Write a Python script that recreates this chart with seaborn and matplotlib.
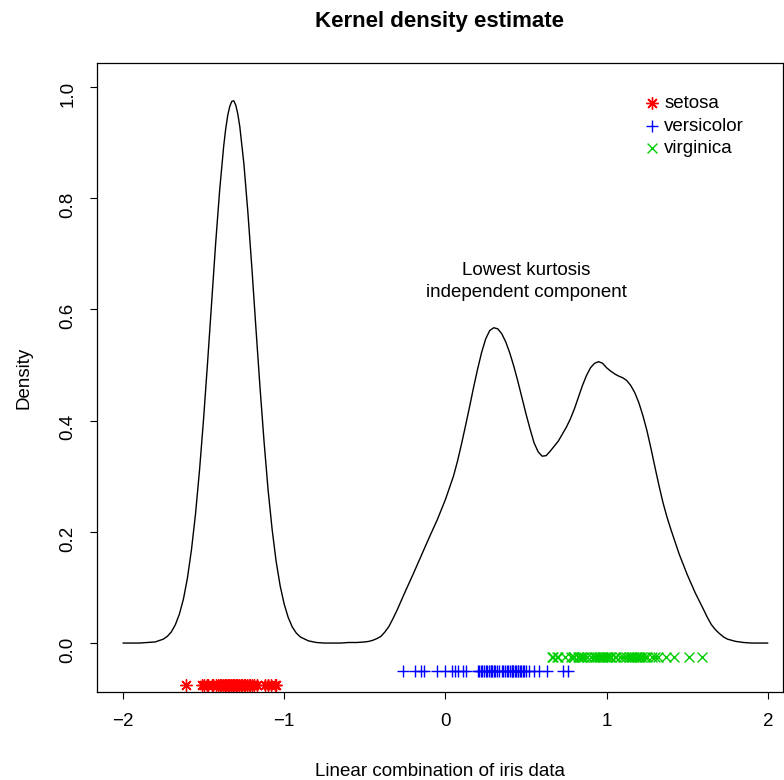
import matplotlib
matplotlib.use("Agg")
import matplotlib.pyplot as plt
import seaborn as sns
import pandas as pd

# ── Data ──────────────────────────────────────────────────────────────────────
# kernel density curve
dens_x = [-2.0, -1.95, -1.9, -1.85, -1.8, -1.75, -1.725, -1.7, -1.675, -1.65,
          -1.625, -1.6, -1.575, -1.55, -1.525, -1.5, -1.475, -1.45, -1.425, -1.4,
          -1.375, -1.3625, -1.35, -1.3375, -1.325, -1.3125, -1.3, -1.2875, -1.275, -1.25,
          -1.225, -1.2, -1.175, -1.15, -1.125, -1.1, -1.075, -1.05, -1.025, -1.0,
          -0.975, -0.95, -0.925, -0.9, -0.85, -0.8, -0.75, -0.7, -0.65, -0.6,
          -0.55, -0.5, -0.475, -0.45, -0.425, -0.4, -0.375, -0.35, -0.325, -0.3,
          -0.25, -0.2, -0.15, -0.1, -0.05, 0.0, 0.05, 0.075, 0.1, 0.125,
          0.15, 0.175, 0.2, 0.225, 0.25, 0.275, 0.3, 0.325, 0.35, 0.375,
          0.4, 0.425, 0.45, 0.475, 0.5, 0.525, 0.55, 0.575, 0.6, 0.625,
          0.65, 0.7, 0.75, 0.775, 0.8, 0.825, 0.85, 0.875, 0.9, 0.925,
          0.95, 0.975, 1.0, 1.025, 1.05, 1.075, 1.1, 1.125, 1.15, 1.175,
          1.2, 1.225, 1.25, 1.275, 1.3, 1.325, 1.35, 1.375, 1.4, 1.45,
          1.5, 1.55, 1.6, 1.625, 1.65, 1.675, 1.7, 1.725, 1.75, 1.8,
          1.85, 1.9, 1.95, 2.0]
dens_y = [0.000, 0.000, 0.000, 0.001, 0.002, 0.007, 0.012, 0.020, 0.033, 0.052,
          0.079, 0.117, 0.168, 0.232, 0.311, 0.403, 0.505, 0.613, 0.719, 0.815,
          0.894, 0.925, 0.949, 0.965, 0.974, 0.975, 0.967, 0.951, 0.928, 0.862,
          0.774, 0.673, 0.565, 0.460, 0.363, 0.276, 0.205, 0.147, 0.103, 0.070,
          0.046, 0.029, 0.018, 0.011, 0.004, 0.001, 0.000, 0.000, 0.000, 0.001,
          0.001, 0.002, 0.003, 0.005, 0.008, 0.012, 0.020, 0.030, 0.044, 0.059,
          0.092, 0.124, 0.157, 0.190, 0.222, 0.258, 0.300, 0.327, 0.358, 0.391,
          0.425, 0.460, 0.493, 0.523, 0.547, 0.562, 0.567, 0.565, 0.556, 0.541,
          0.521, 0.497, 0.470, 0.441, 0.412, 0.385, 0.360, 0.344, 0.336, 0.337,
          0.345, 0.363, 0.388, 0.403, 0.421, 0.442, 0.463, 0.481, 0.495, 0.503,
          0.506, 0.503, 0.495, 0.489, 0.484, 0.480, 0.477, 0.472, 0.463, 0.450,
          0.432, 0.409, 0.382, 0.350, 0.316, 0.283, 0.252, 0.226, 0.203, 0.160,
          0.123, 0.090, 0.061, 0.046, 0.033, 0.024, 0.017, 0.011, 0.007, 0.003,
          0.001, 0.000, 0.000, 0.000]

# projected points per species (rug under the curve)
setosa = [-1.61, -1.51, -1.50, -1.48, -1.47, -1.45, -1.44, -1.42, -1.41, -1.40,
          -1.40, -1.39, -1.38, -1.38, -1.37, -1.37, -1.36, -1.36, -1.35, -1.35,
          -1.34, -1.34, -1.33, -1.33, -1.33, -1.32, -1.32, -1.31, -1.31, -1.30,
          -1.30, -1.29, -1.29, -1.28, -1.28, -1.27, -1.26, -1.25, -1.24, -1.23,
          -1.22, -1.21, -1.20, -1.19, -1.17, -1.12, -1.10, -1.08, -1.06, -1.05]
versicolor = [-0.26, -0.19, -0.15, -0.13, -0.05, 0.00, 0.04, 0.06, 0.08, 0.11,
              0.13, 0.20, 0.21, 0.22, 0.23, 0.24, 0.25, 0.26, 0.27, 0.28,
              0.28, 0.29, 0.30, 0.31, 0.32, 0.33, 0.35, 0.36, 0.37, 0.38,
              0.39, 0.40, 0.41, 0.41, 0.42, 0.43, 0.44, 0.45, 0.45, 0.46,
              0.47, 0.48, 0.49, 0.50, 0.52, 0.55, 0.58, 0.63, 0.73, 0.76]
virginica = [0.66, 0.67, 0.69, 0.70, 0.74, 0.78, 0.79, 0.80, 0.82, 0.83,
             0.84, 0.85, 0.86, 0.88, 0.90, 0.92, 0.93, 0.94, 0.95, 0.96,
             0.97, 0.98, 0.99, 1.00, 1.01, 1.02, 1.03, 1.05, 1.06, 1.08,
             1.10, 1.12, 1.14, 1.15, 1.16, 1.17, 1.18, 1.19, 1.20, 1.21,
             1.22, 1.24, 1.25, 1.28, 1.30, 1.32, 1.37, 1.42, 1.51, 1.59]

species = ["setosa", "versicolor", "virginica"]
rug_levels = [-0.075, -0.05, -0.025]
x_ticks = [-2, -1, 0, 1, 2]
y_ticks = [0.0, 0.2, 0.4, 0.6, 0.8, 1.0]
y_ticklabels = ["0.0", "0.2", "0.4", "0.6", "0.8", "1.0"]

# ── Style ─────────────────────────────────────────────────────────────────────
colors = {"setosa": "#FF0000", "versicolor": "#0000FF", "virginica": "#00CD00"}
markers = {"setosa": (8, 2, 0), "versicolor": "+", "virginica": "x"}
sizes = {"setosa": 70, "versicolor": 75, "virginica": 50}
FS = 13.5

sns.set_style("ticks")
plt.rcParams["font.family"] = ["Liberation Sans", "DejaVu Sans"]
plt.rcParams.update({"text.color": "black", "axes.labelcolor": "black",
                     "xtick.color": "black", "ytick.color": "black"})

rug = pd.concat([
    pd.DataFrame({"value": vals, "species": sp, "level": lvl})
    for sp, vals, lvl in zip(species, [setosa, versicolor, virginica], rug_levels)
], ignore_index=True)

W, H = 784, 780
fig = plt.figure(figsize=(W / 100, H / 100), dpi=100)
ax = fig.add_axes([97 / W, 1 - 692 / H, (783 - 97) / W, (692 - 63) / H])

sns.lineplot(x=dens_x, y=dens_y, ax=ax, color="black", linewidth=1.0,
             estimator=None, sort=False)

for sp in species:
    sub = rug[rug["species"] == sp]
    sns.scatterplot(data=sub, x="value", y="level", ax=ax, marker=markers[sp],
                    color=colors[sp], s=sizes[sp], linewidth=1.0, label=sp)

ax.text(0.5, 0.65, "Lowest kurtosis\nindependent component", ha="center",
        va="center", fontsize=FS, linespacing=1.4)

ax.legend(loc="upper left", bbox_to_anchor=(0.798, 0.949), frameon=False,
          fontsize=FS, handlelength=0.8, handletextpad=0.25, labelspacing=0.28,
          borderpad=0, borderaxespad=0)

ax.set_xlim(-2.161, 2.094)
ax.set_ylim(-0.088, 1.043)
ax.set_xticks(x_ticks)
ax.set_yticks(y_ticks)
ax.set_yticklabels(y_ticklabels)
ax.tick_params(axis="both", direction="out", length=5, width=0.8, pad=10,
               labelsize=FS, color="black")
ax.tick_params(axis="y", labelrotation=90)
for side in ax.spines.values():
    side.set_visible(True)
    side.set_color("black")
    side.set_linewidth(0.9)

ax.set_xlabel("Linear combination of iris data", fontsize=FS, labelpad=24)
ax.set_ylabel("Density", fontsize=FS, labelpad=19)
fig.text(440 / W, 1 - 21 / H, "Kernel density estimate", ha="center",
         va="center", fontsize=16, fontweight="bold")

fig.savefig("out.png", dpi=100)
